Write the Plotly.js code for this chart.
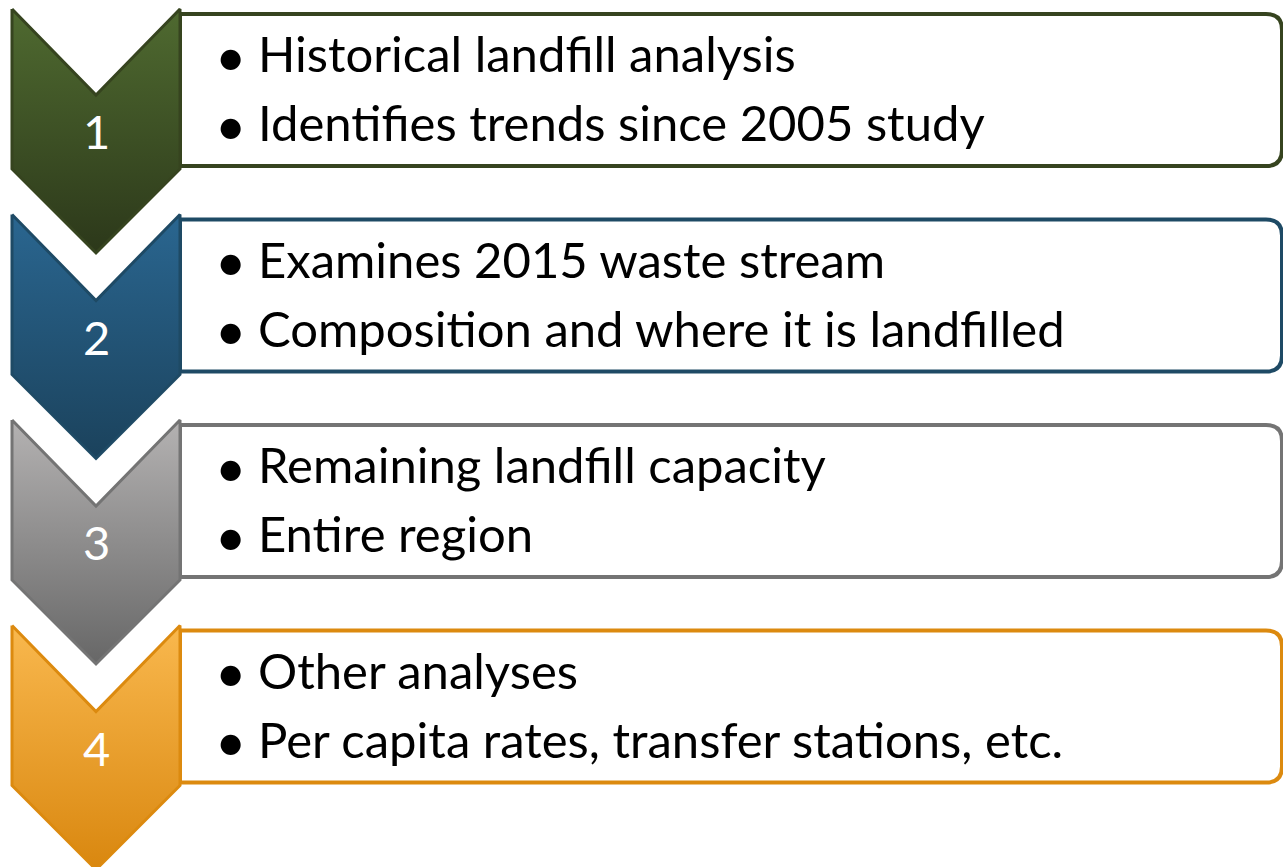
<!DOCTYPE html>
<html><head><meta charset="utf-8">
<script src="https://cdn.plot.ly/plotly-3.0.1.min.js"></script>
<style>html,body{margin:0;padding:0;background:#fff;}#chart{width:1283px;height:867px;}</style>
</head><body><div id="chart"></div>
<script>
// ---- data ----
const stepLabels = ["1", "2", "3", "4"];
const bulletLine1 = ["Historical landfill analysis", "Examines 2015 waste stream", "Remaining landfill capacity", "Other analyses"];
const bulletLine2 = ["Identifies trends since 2005 study", "Composition and where it is landfilled", "Entire region", "Per capita rates, transfer stations, etc."];
const gradTop = ["#4f6a30", "#2a6690", "#b4b2b2", "#f9b84e"];
const gradBottom = ["#2c381a", "#1b425c", "#676767", "#d9870f"];
const strokeColors = ["#36441f", "#1e4a65", "#747474", "#dc8a0f"];

// ---- layout geometry ----
const W = 1283, H = 867;
const step = 205.5, top0 = 9;
const cxL = 12, cxR = 180, cxMid = 96, notch = 86, bodyH = 160, tipH = 244;
const boxTopOff = 5, boxH = 152, boxRight = 1282, rad = 16;

const traces = [];
const shapes = [];
const annotations = [];
const font = "Lato, 'Open Sans', sans-serif";

stepLabels.forEach((lab, i) => {
  const t = top0 + i * step;
  // box
  const bt = t + boxTopOff, bb = bt + boxH;
  shapes.push({
    type: "path", layer: "below",
    path: `M ${cxR},${bt} L ${boxRight - rad},${bt} Q ${boxRight},${bt} ${boxRight},${bt + rad} L ${boxRight},${bb - rad} Q ${boxRight},${bb} ${boxRight - rad},${bb} L ${cxR},${bb} Z`,
    fillcolor: "#ffffff", line: {color: strokeColors[i], width: 4}
  });
  // chevron
  traces.push({
    type: "scatter", mode: "lines", hoverinfo: "skip", showlegend: false,
    x: [cxL, cxMid, cxR, cxR, cxMid, cxL, cxL],
    y: [t, t + notch, t, t + bodyH, t + tipH, t + bodyH, t],
    fill: "toself",
    fillgradient: {type: "vertical", start: t, stop: t + tipH, colorscale: [[0, gradTop[i]], [1, gradBottom[i]]]},
    line: {color: strokeColors[i], width: 3}
  });
  annotations.push({x: cxMid, y: t + 122, text: lab, showarrow: false, xanchor: "center", yanchor: "middle",
    font: {family: font, size: 47, color: "#ffffff"}});
  const lines = [bulletLine1[i], bulletLine2[i]];
  lines.forEach((txt, k) => {
    const y = bt + 39 + k * 69;
    annotations.push({x: 230, y: y + 2, text: "•", showarrow: false, xanchor: "center", yanchor: "middle",
      font: {family: font, size: 54, color: "#000000"}});
    annotations.push({x: 256, y: y, text: txt, showarrow: false, xanchor: "left", yanchor: "middle",
      font: {family: font, size: 49, color: "#000000"}});
  });
});

const layout = {
  width: W, height: H,
  margin: {l: 0, r: 0, t: 0, b: 0},
  paper_bgcolor: "#ffffff", plot_bgcolor: "#ffffff",
  xaxis: {range: [0, W], visible: false, fixedrange: true},
  yaxis: {range: [H, 0], visible: false, fixedrange: true},
  shapes: shapes, annotations: annotations, showlegend: false
};
Plotly.newPlot("chart", traces, layout, {staticPlot: true, displayModeBar: false});
</script></body></html>
